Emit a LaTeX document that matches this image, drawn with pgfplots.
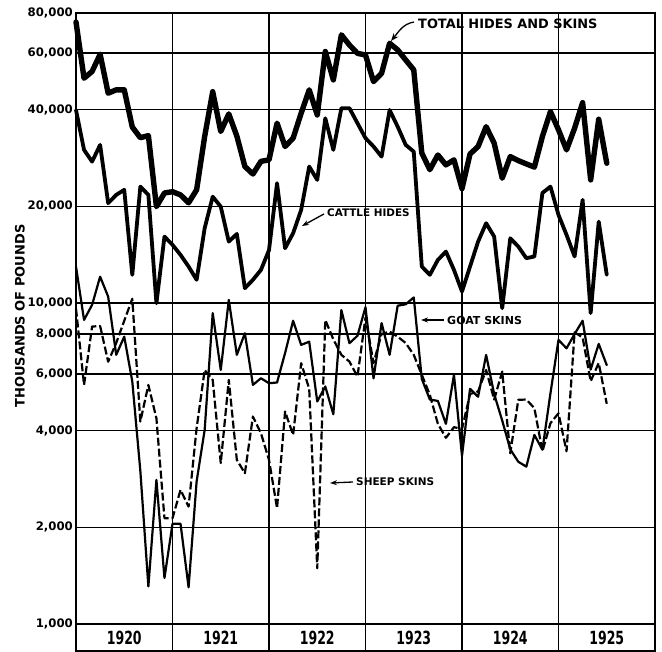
\documentclass[border=0pt]{standalone}
\usepackage{fontspec}
\setmainfont{DejaVu Sans}
\usepackage{graphicx}
\usepackage{pgfplots}
\usepackage{pgfplotstable}
\pgfplotsset{compat=1.18}
\usetikzlibrary{arrows.meta,calc}

% monthly imports, thousands of pounds; m = months from Jan 1920
\pgfplotstableread{
m total cattle goat sheep
0 75000 39900 12970 9600
1 50100 29970 8850 5550
2 52600 27550 9860 8440
3 59500 31060 12070 8470
4 45000 20450 10460 6560
5 46100 21700 6890 7500
6 46100 22500 7850 8800
7 35300 12230 5690 10300
8 32700 23030 3000 4270
9 33200 21700 1308 5550
10 19950 9980 2810 4370
11 22000 16090 1390 2134
12 22200 15170 2050 2134
13 21700 14110 2050 2615
14 20500 12980 1300 2320
15 22500 11800 2780 4070
16 33000 17090 4020 6180
17 45500 21430 9290 5755
18 34200 19950 6180 3170
19 38800 15520 10220 5755
20 33100 16400 6890 3243
21 26600 11110 8045 2948
22 25200 11800 5555 4425
23 27600 12670 5825 3927
24 27900 14600 5620 3243
25 36300 23600 5650 2293
26 30700 14800 6980 4587
27 32600 16490 8800 3880
28 39000 19490 7400 6490
29 46100 26600 7570 5400
30 38500 24160 4930 1490
31 60700 37600 5490 8850
32 49500 29970 4500 7700
33 68400 40420 9500 6890
34 63600 40420 7490 6565
35 59900 36300 7900 5895
36 59200 32600 9700 9000
37 48900 30700 5820 6500
38 51900 28550 8650 8000
39 64400 39900 6890 8140
40 61400 35400 9800 7850
41 57100 31060 9900 7500
42 53200 29600 10400 6890
43 29300 12980 5800 5970
44 26000 12230 5000 5170
45 28900 13610 4950 4200
46 26900 14450 4200 3800
47 27900 12670 5970 4100
48 22700 10850 3340 4050
49 29100 12980 5400 5200
50 30700 15520 5100 5300
51 35400 17710 6890 6180
52 31450 16090 5200 5000
53 24450 9630 4300 6110
54 28550 15900 3500 3400
55 27750 14980 3200 4990
56 27100 13780 3090 5000
57 26480 13950 3880 4700
58 33000 22000 3490 3450
59 39450 23030 5230 4220
60 34600 18800 7670 4530
61 29970 16290 7220 3450
62 35000 13950 8000 8100
63 42060 20940 8800 7800
64 24160 9300 6200 5700
65 37340 17920 7450 6500
66 27230 12230 6400 4850
}\hides

\begin{document}
\begin{tikzpicture}[
    yearlbl/.style={font=\bfseries\fontsize{12.5}{13}\selectfont, inner sep=0pt},
]
\begin{axis}[
    scale only axis,
    width=579pt, height=638pt,
    xmin=0, xmax=72,
    ymode=log, ymin=823.5, ymax=80000,
    xtick={12,24,36,48,60}, xticklabels={},
    ytick={1000,2000,4000,6000,8000,10000,20000,40000,60000,80000},
    yticklabels={{1,000},{2,000},{4,000},{6,000},{8,000},{10,000},{20,000},{40,000},{60,000},{80,000}},
    major tick length=0pt,
    grid=major,
    grid style={black, line width=1.5pt},
    axis line style={black, line width=2pt},
    yticklabel style={font=\bfseries\fontsize{11.7}{12}\selectfont, anchor=east, inner sep=0pt, xshift=-3pt},
    clip=false,
    every axis plot/.append style={black, line join=round, line cap=round},
]
    \addplot[line width=5.4pt] table[x=m, y=total] {\hides};
    \addplot[line width=3.8pt] table[x=m, y=cattle] {\hides};
    \addplot[line width=2.2pt] table[x=m, y=goat] {\hides};
    \addplot[line width=2.2pt, line cap=butt, dash pattern=on 8pt off 3pt] table[x=m, y=sheep] {\hides};

    \coordinate (bl) at (rel axis cs:0,0);
    \coordinate (tr) at (rel axis cs:1,1);

    % year labels
    \node[yearlbl] at (axis cs:6,905) {\scalebox{1}[1.45]{1920}};
    \node[yearlbl] at (axis cs:18,905) {\scalebox{1}[1.45]{1921}};
    \node[yearlbl] at (axis cs:30,905) {\scalebox{1}[1.45]{1922}};
    \node[yearlbl] at (axis cs:42,905) {\scalebox{1}[1.45]{1923}};
    \node[yearlbl] at (axis cs:54,905) {\scalebox{1}[1.45]{1924}};
    \node[yearlbl] at (axis cs:66,905) {\scalebox{1}[1.45]{1925}};

    % y label
    \node[rotate=90, font=\bfseries\fontsize{13}{14}\selectfont, inner sep=0pt]
        at ([xshift=-56pt]rel axis cs:0,0.525) {THOUSANDS OF POUNDS};

    % annotations
    \node[anchor=west, inner sep=0pt, font=\bfseries\fontsize{12.9}{13}\selectfont]
        at (rel axis cs:0.5907,0.9828) {TOTAL HIDES AND SKINS};
    \draw[line width=1.3pt, -{Stealth[length=8pt,width=6pt]}]
        (rel axis cs:0.5838,0.9859) to[out=190,in=50] (rel axis cs:0.5440,0.9561);

    \node[anchor=west, inner sep=0pt, font=\bfseries\fontsize{10.4}{11}\selectfont]
        at (rel axis cs:0.4335,0.6865) {CATTLE HIDES};
    \draw[line width=1.3pt, -{Stealth[length=7pt,width=5pt]}]
        (rel axis cs:0.4283,0.6850) -- (rel axis cs:0.3903,0.6661);

    \node[anchor=west, inner sep=0pt, font=\bfseries\fontsize{11}{12}\selectfont]
        at (rel axis cs:0.6408,0.5188) {GOAT SKINS};
    \draw[line width=1.3pt, -{Stealth[length=7pt,width=5pt]}]
        (rel axis cs:0.6356,0.5188) -- (rel axis cs:0.5959,0.5188);

    \node[anchor=west, inner sep=0pt, font=\bfseries\fontsize{10.5}{11}\selectfont]
        at (rel axis cs:0.4836,0.2649) {SHEEP SKINS};
    \draw[line width=1.3pt, -{Stealth[length=7pt,width=5pt]}]
        (rel axis cs:0.4784,0.2649) -- (rel axis cs:0.4387,0.2633);
\end{axis}
\pgfresetboundingbox
\path ($(bl)+(-76pt,0pt)$) rectangle ($(tr)+(7pt,13pt)$);
\end{tikzpicture}
\end{document}
